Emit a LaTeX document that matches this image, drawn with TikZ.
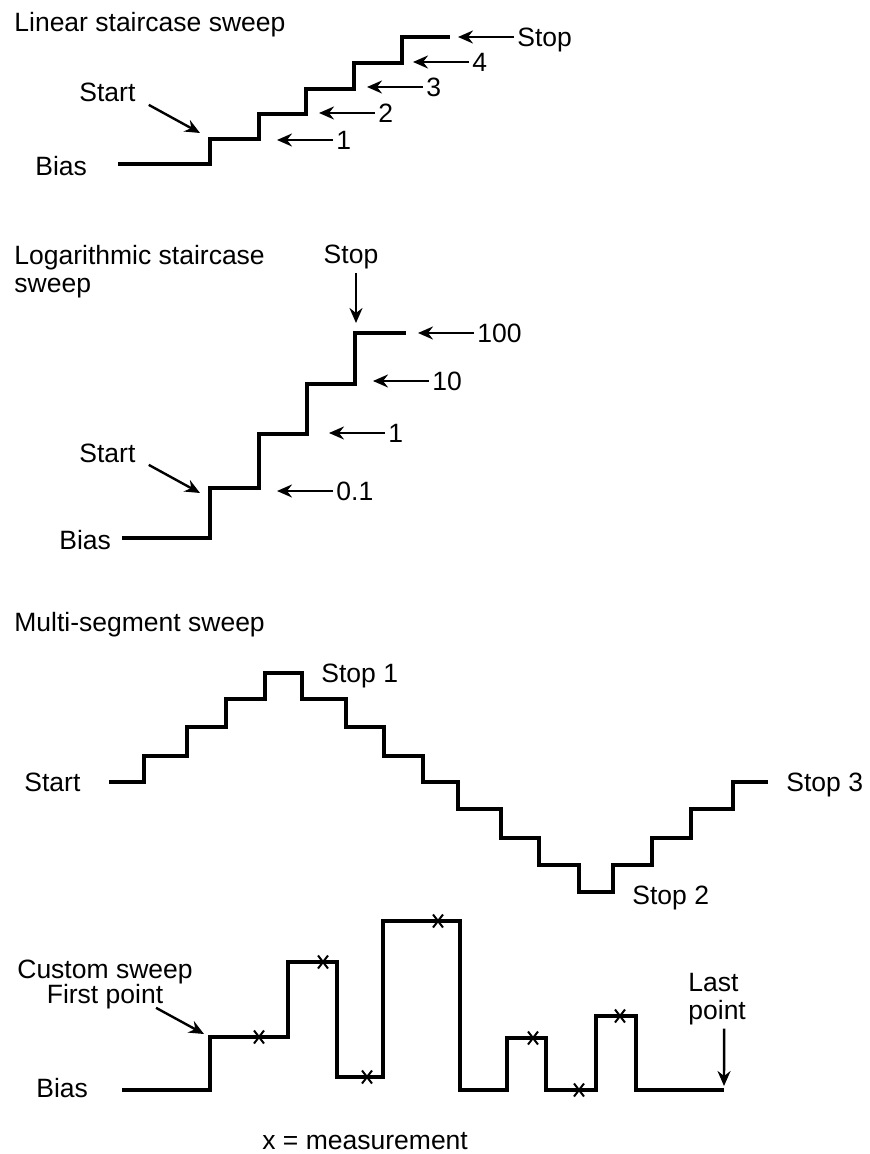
\documentclass[tikz,border=0pt]{standalone}
\usepackage{fontspec}
\setmainfont{Liberation Sans}
\usetikzlibrary{arrows.meta,calc}

\begin{document}
\begin{tikzpicture}[x=0.5pt,y=-0.5pt,font=\fontsize{13.25}{14}\selectfont,
  >={Stealth[length=7.5pt,width=6.5pt,inset=2.5pt]},
  wave/.style={line width=2.4pt},
  custwave/.style={line width=2pt},
  ptr/.style={->,line width=1.2pt},
  lbl/.style={inner sep=1.5pt},
  tag/.style={inner sep=1.5pt,text depth=0pt,anchor=west},
  meas/.style={line width=1pt}]
\useasboundingbox (0,0) rectangle (869,1154);

% linear staircase
\node[lbl,anchor=base west] (lintitle) at (11,32) {Linear staircase sweep};
\node[lbl,anchor=base west] (linbias) at (32,176) {Bias};
\node[lbl,anchor=base west] (linstart) at (76,102) {Start};
\draw[wave] (118,164) -- (210,164) -- (210,139) -- (259,139) -- (259,114) -- (306,114)
  -- (306,89) -- (354,89) -- (354,63) -- (402,63) -- (402,37) -- (450,37);
\coordinate (linstarttip) at (200,133);
\draw[ptr] ([shift={(10,12)}]linstart.east) -- (linstarttip);
\foreach \tx/\ty/\txt [count=\i] in {277/140/1,319/113/2,367/87/3,413/62/4,458/37/Stop}{
  \coordinate (lintip\i) at (\tx,\ty);
  \node[tag] (linlab\i) at ($(lintip\i)+(56,0)$) {\txt};
  \draw[ptr] (linlab\i) -- (lintip\i);
}

% logarithmic staircase
\node[lbl,anchor=north west,align=left] (logtitle) at (11,242) {Logarithmic staircase\\sweep};
\node[lbl,anchor=base west] (logbias) at (56,549) {Bias};
\node[lbl,anchor=base west] (logstart) at (76,462) {Start};
\node[lbl,anchor=base] (logstop) at (351,264) {Stop};
\draw[wave] (122,538) -- (210,538) -- (210,488) -- (259,488) -- (259,434) -- (307,434)
  -- (307,384) -- (355,384) -- (355,333) -- (406,333);
\coordinate (logstarttip) at (200,493);
\coordinate (logstoptip) at (356,323);
\draw[ptr] ([shift={(10,12)}]logstart.east) -- (logstarttip);
\draw[ptr] ([shift={(5,0)}]logstop.south) -- (logstoptip);
\foreach \tx/\ty/\txt [count=\i] in {277/491/0.1,329/433/1,373/381/10,418/333/100}{
  \coordinate (logtip\i) at (\tx,\ty);
  \node[tag] (loglab\i) at ($(logtip\i)+(56,0)$) {\txt};
  \draw[ptr] (loglab\i) -- (logtip\i);
}

% multi-segment sweep
\node[lbl,anchor=base west] (multititle) at (11,631) {Multi-segment sweep};
\node[lbl,anchor=base west] (multistart) at (21,791) {Start};
\node[lbl,anchor=base west] (stopone) at (318,682) {Stop 1};
\node[lbl,anchor=base west] (stoptwo) at (629,904) {Stop 2};
\node[lbl,anchor=base west] (stopthree) at (783,791) {Stop 3};
\draw[wave] (109,782) -- (144,782) -- (144,756) -- (187,756) -- (187,727) -- (226,727)
  -- (226,699) -- (265,699) -- (265,673) -- (302,673) -- (302,699) -- (346,699)
  -- (346,727) -- (384,727) -- (384,756) -- (423,756) -- (423,782) -- (458,782)
  -- (458,809) -- (501,809) -- (501,838) -- (539,838) -- (539,865) -- (579,865)
  -- (579,892) -- (613,892) -- (613,865) -- (652,865) -- (652,838) -- (691,838)
  -- (691,809) -- (733,809) -- (733,782) -- (768,782);

% custom sweep
\node[lbl,anchor=north,align=center,font=\fontsize{13.25}{12.5}\selectfont] (custom) at (105,957) {Custom sweep\\First point};
\node[lbl,anchor=base west] (custbias) at (33,1097) {Bias};
\node[lbl,anchor=north west,align=left] (lastpt) at (685,970) {Last\\point};
\draw[custwave] (122,1090) -- (210,1090) -- (210,1037) -- (288,1037) -- (288,962)
  -- (337,962) -- (337,1077) -- (383,1077) -- (383,921) -- (460,921) -- (460,1090)
  -- (507,1090) -- (507,1038) -- (546,1038) -- (546,1090) -- (596,1090) -- (596,1016)
  -- (636,1016) -- (636,1090) -- (724,1090);
\foreach \mx/\my in {259/1037,323/962,367/1077,438/921,533/1038,579/1090,620/1016}{
  \draw[meas] ({\mx-5},{\my-6.5}) -- ({\mx+5},{\my+6.5}) ({\mx-5},{\my+6.5}) -- ({\mx+5},{\my-6.5});
}
\coordinate (firsttip) at (204,1034);
\coordinate (lasttip) at (724,1086);
\draw[ptr] ([shift={(-40,-5)}]custom.south east) -- (firsttip);
\draw[ptr] ([shift={(7,0)}]lastpt.south) -- (lasttip);
\node[lbl,anchor=base west] (measkey) at (259,1149) {x = measurement};
\end{tikzpicture}
\end{document}
